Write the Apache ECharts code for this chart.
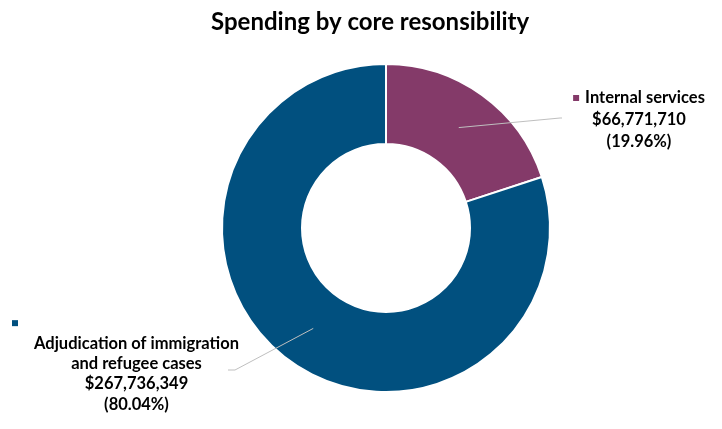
<!DOCTYPE html>
<html>
<head>
<meta charset="utf-8">
<script src="https://cdn.jsdelivr.net/npm/echarts@6/dist/echarts.min.js"></script>
<style>html,body{margin:0;padding:0;background:#fff}#c{width:722px;height:429px}</style>
</head>
<body>
<div id="c"></div>
<script>
const titleText = 'Spending by core resonsibility';
const categories = ['Internal services', 'Adjudication of immigration\nand refugee cases'];
const values = [66771710, 267736349];
const colors = ['#843A69', '#01507F'];

const FONT = 'Lato';
const CX = 386, CY = 228;

function fmtMoney(v) {
  return '$' + v.toLocaleString('en-US');
}

const data = categories.map((n, i) => ({ name: n, value: values[i], itemStyle: { color: colors[i] } }));

const labelRich = {
  t: { fontFamily: FONT, fontWeight: 'bold', fontSize: 16.5, color: '#000', align: 'center' },
  m0: { width: 6, height: 6, backgroundColor: colors[0] },
  g: { width: 6 },
  m1: { width: 6, height: 6, backgroundColor: colors[1], align: 'left' },
  sp: { width: 243, align: 'right' }
};

const chart = echarts.init(document.getElementById('c'), null, { renderer: 'canvas' });
chart.setOption({
  animation: false,
  backgroundColor: '#fff',
  title: {
    text: titleText,
    left: 211,
    top: 10,
    padding: 0,
    textStyle: { fontFamily: FONT, fontWeight: 'bold', fontSize: 24, color: '#000' }
  },
  series: [
    {
      type: 'pie',
      z: 2,
      center: [CX, CY],
      radius: [84, 164],
      startAngle: 90,
      clockwise: true,
      silent: true,
      label: { show: false },
      labelLine: { show: false },
      itemStyle: { borderColor: '#fff', borderWidth: 2 },
      data: data
    },
    {
      type: 'pie',
      z: 5,
      center: [CX, CY],
      radius: [0, 124],
      startAngle: 90,
      clockwise: true,
      silent: true,
      percentPrecision: 2,
      itemStyle: { color: 'rgba(0,0,0,0)', borderWidth: 0 },
      label: {
        show: true,
        position: 'outside',
        rich: labelRich,
        formatter: function (p) {
          const lines = p.name.split('\n').map(s => '{t|' + s + '}');
          const money = '{t|' + fmtMoney(p.value) + '}';
          const pct = '{t|(' + p.percent.toFixed(2) + '%)}';
          if (p.dataIndex === 0) {
            lines[0] = '{m0|}{g|}' + lines[0];
            return lines.concat([money, pct]).join('\n');
          }
          return ['{m1|}{sp|}'].concat(lines, [money, pct]).join('\n');
        }
      },
      labelLine: { show: true, length: 20, length2: 10, lineStyle: { color: '#BFBFBF', width: 1 } },
      labelLayout: function (p) {
        const s = p.labelLinePoints ? p.labelLinePoints[0] : null;
        if (p.dataIndex === 0) {
          const r = { x: 639, y: 87, align: 'center', verticalAlign: 'top' };
          if (s) r.labelLinePoints = [s, [560, 118], [562, 118]];
          return r;
        }
        const r = { x: 136.5, y: 313, align: 'center', verticalAlign: 'top' };
        if (s) r.labelLinePoints = [s, [235, 370], [228, 370]];
        return r;
      },
      data: data.map((d, i) => ({
        name: d.name, value: d.value,
        label: { lineHeight: i === 0 ? 22 : 20.3 }
      }))
    }
  ]
});
</script>
</body>
</html>
